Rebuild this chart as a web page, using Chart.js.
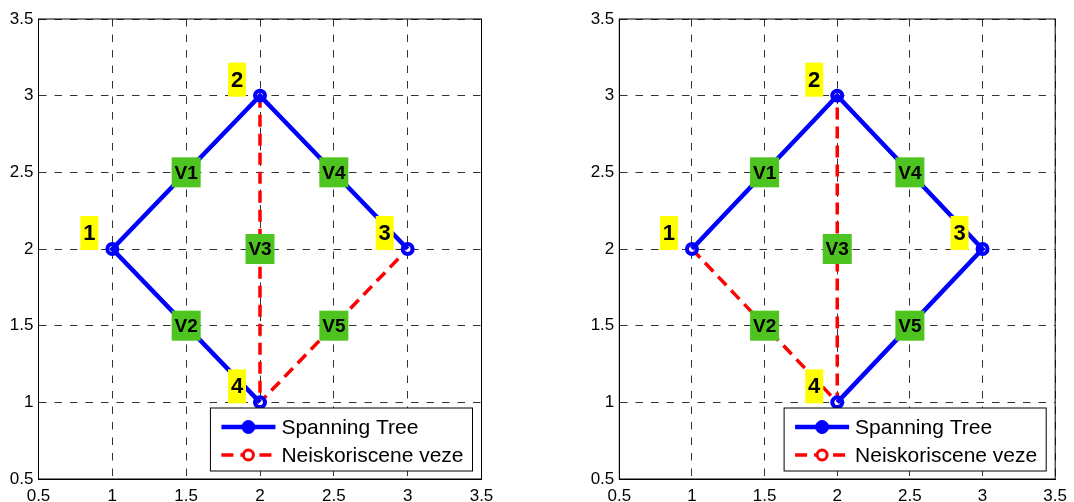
<!DOCTYPE html>
<html>
<head>
<meta charset="utf-8">
<script src="https://cdn.jsdelivr.net/npm/chart.js@4.4.0/dist/chart.umd.min.js"></script>
<style>
body { margin: 0; background: #fff; width: 1074px; height: 502px; overflow: hidden; position: relative; }
canvas { position: absolute; top: 0; }
#left { left: 0; }
#right { left: 580px; }
</style>
</head>
<body>
<canvas id="left" width="537" height="502"></canvas>
<canvas id="right" width="494" height="502"></canvas>
<script>
const tickValues = [0.5, 1, 1.5, 2, 2.5, 3, 3.5];

const nodeNames = ['1', '2', '3', '4'];
const nodeX = [1, 2, 3, 2];
const nodeY = [2, 3, 2, 1];

const edgeNames = ['V1', 'V2', 'V3', 'V4', 'V5'];
const edgeX = [1.5, 1.5, 2, 2.5, 2.5];
const edgeY = [2.5, 1.5, 2, 2.5, 1.5];

// node indices along each drawn path
const leftTree = [3, 0, 1, 2];
const leftUnused = [1, 3, 2];
const rightTree = [0, 1, 2, 3];
const rightUnused = [0, 3, 1];

const seriesNames = ['Spanning Tree', 'Neiskoriscene veze'];

const FONT = '"Liberation Sans", Arial, sans-serif';

function pathPoints(path) {
    return path.map(i => ({ x: nodeX[i], y: nodeY[i] }));
}

function axis(isX, yWidth) {
    return {
        type: 'linear',
        min: 0.5,
        max: 3.5,
        afterBuildTicks: s => { s.ticks = tickValues.map(v => ({ value: v })); },
        ticks: {
            callback: v => String(v),
            color: '#000',
            font: { family: FONT, size: 17 },
            padding: isX ? 7 : 5
        },
        grid: { color: '#333', lineWidth: 1, drawTicks: false },
        border: { display: true, color: '#000', width: 1, dash: [7.5, 8] },
        afterFit: s => {
            if (isX) s.height = 23; else s.width = yWidth;
        }
    };
}

// frame, node/edge labels and the legend box
const decor = {
    id: 'decor',
    afterDatasetsDraw(chart) {
        const { ctx, chartArea: a, scales: { x, y } } = chart;
        ctx.save();
        ctx.strokeStyle = '#000';
        ctx.lineWidth = 1;
        ctx.strokeRect(a.left, a.top, a.right - a.left, a.bottom - a.top);

        ctx.textAlign = 'center';
        ctx.textBaseline = 'middle';

        // edge names on green boxes
        ctx.font = 'bold 19px ' + FONT;
        edgeNames.forEach((n, i) => {
            const px = x.getPixelForValue(edgeX[i]);
            const py = y.getPixelForValue(edgeY[i]);
            ctx.fillStyle = '#4dc41f';
            ctx.fillRect(px - 14.5, py - 15, 29, 30);
            ctx.fillStyle = '#000';
            ctx.fillText(n, px, py + 1);
        });

        // node numbers on yellow boxes
        ctx.font = 'bold 22px ' + FONT;
        nodeNames.forEach((n, i) => {
            const px = x.getPixelForValue(nodeX[i]);
            const py = y.getPixelForValue(nodeY[i]);
            ctx.fillStyle = '#ffff00';
            ctx.fillRect(px - 32, py - 33, 18, 34);
            ctx.fillStyle = '#000';
            ctx.fillText(n, px - 23, py - 15);
        });

        // legend
        ctx.font = '21px ' + FONT;
        const sets = chart.data.datasets;
        const textW = Math.max(...sets.map(d => ctx.measureText(d.label).width));
        const w = 71 + textW + 9, h = 63;
        const lx = a.right - 9 - w, ly = a.bottom - 8 - h;
        ctx.fillStyle = '#fff';
        ctx.fillRect(lx, ly, w, h);
        ctx.strokeStyle = '#000';
        ctx.lineWidth = 1;
        ctx.strokeRect(lx, ly, w, h);
        sets.forEach((d, i) => {
            const cy = ly + 19 + i * 28;
            ctx.save();
            ctx.strokeStyle = d.borderColor;
            ctx.lineWidth = d.borderWidth;
            ctx.setLineDash(d.borderDash || []);
            ctx.beginPath();
            ctx.moveTo(lx + 11, cy);
            ctx.lineTo(lx + 65, cy);
            ctx.stroke();
            ctx.setLineDash([]);
            ctx.beginPath();
            ctx.arc(lx + 38, cy, i === 0 ? 6.5 : 5, 0, Math.PI * 2);
            ctx.fillStyle = i === 0 ? d.borderColor : '#fff';
            ctx.fill();
            ctx.lineWidth = i === 0 ? 1 : 3;
            ctx.stroke();
            ctx.restore();
            ctx.fillStyle = '#000';
            ctx.textAlign = 'left';
            ctx.fillText(d.label, lx + 71, cy + 1);
        });
        ctx.restore();
    }
};

function makeChart(id, tree, unused, yWidth, padRight) {
    return new Chart(document.getElementById(id), {
        type: 'scatter',
        data: {
            datasets: [{
                label: seriesNames[0],
                data: pathPoints(tree),
                showLine: true,
                borderColor: '#0000ff',
                borderWidth: 4.5,
                pointRadius: 5,
                pointBorderWidth: 4,
                pointBorderColor: '#0000ff',
                pointBackgroundColor: 'rgba(0,0,0,0)'
            }, {
                label: seriesNames[1],
                data: pathPoints(unused),
                showLine: true,
                borderColor: '#ff0000',
                borderWidth: 3.5,
                borderDash: [12, 7],
                pointRadius: 4.5,
                pointBorderWidth: 3,
                pointBorderColor: '#ff0000',
                pointBackgroundColor: '#fff'
            }]
        },
        options: {
            responsive: false,
            animation: false,
            layout: { padding: { left: 0, top: 19, right: padRight, bottom: 0 } },
            plugins: { legend: { display: false }, tooltip: { enabled: false } },
            scales: { x: axis(true), y: axis(false, yWidth) }
        },
        plugins: [decor]
    });
}

makeChart('left', leftTree, leftUnused, 38.5, 55.5);
makeChart('right', rightTree, rightUnused, 39.3, 12.3);
</script>
</body>
</html>
